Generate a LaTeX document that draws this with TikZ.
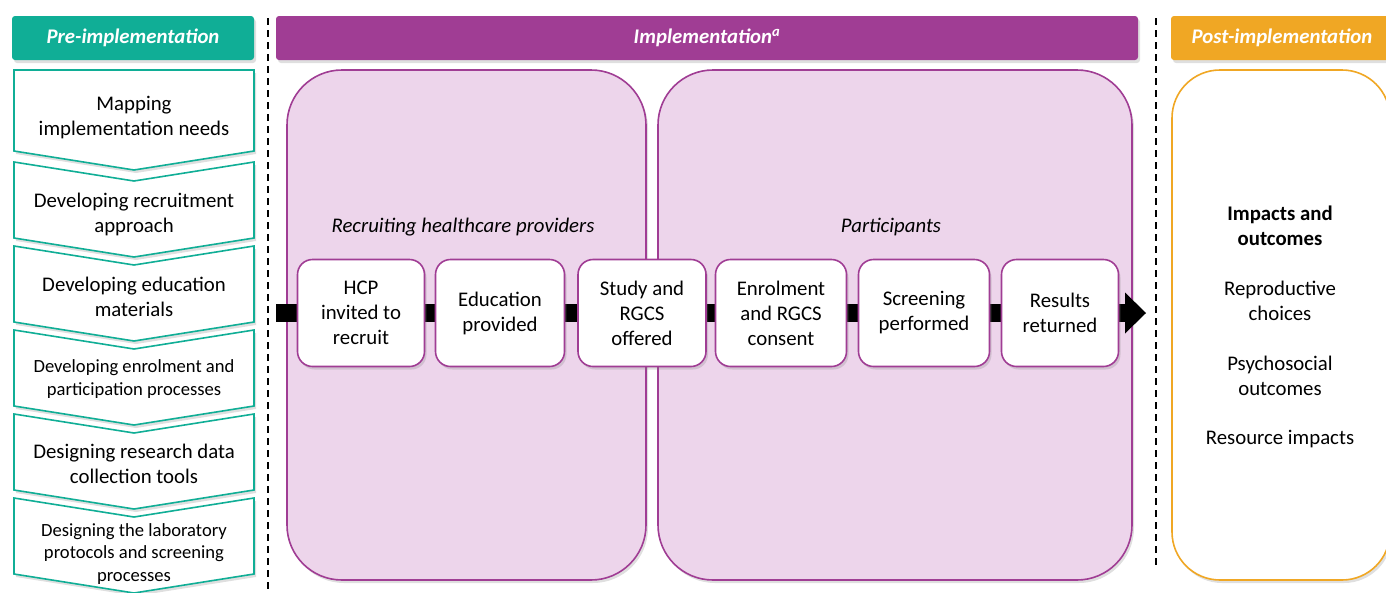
\documentclass[tikz,border=0pt]{standalone}
\usepackage{fontspec}
\setmainfont{Carlito}
\usetikzlibrary{arrows.meta,shadows,positioning}

\definecolor{preteal}{RGB}{16,174,150}
\definecolor{implpurple}{RGB}{160,61,148}
\definecolor{panelpink}{RGB}{237,213,235}
\definecolor{postorange}{RGB}{240,167,36}

\begin{document}
\begin{tikzpicture}[x=1pt,y=-1pt,
  shade/.style={drop shadow={shadow xshift=2pt,shadow yshift=-3pt,opacity=0.25}},
  hdr/.style={shade,rounded corners=3pt,minimum height=44pt,inner sep=0pt,text=white,
    font=\fontsize{20.8}{24}\selectfont\bfseries\itshape},
  chev/.style={shade,draw=preteal,fill=white,line width=1.6pt,line join=miter},
  chevtxt/.style={align=center,font=\fontsize{20.8}{25}\selectfont},
  chevsmall/.style={align=center,font=\fontsize{18.6}{22.5}\selectfont},
  panel/.style={shade,draw=implpurple,fill=panelpink,line width=1.6pt,rounded corners=55pt},
  stepbox/.style={shade,draw=implpurple,fill=white,line width=1.6pt,rounded corners=15pt,
    minimum height=107pt,inner sep=0pt,align=center,font=\fontsize{20.8}{25}\selectfont},
  flow/.style={line width=18pt,-{Triangle[length=21pt,width=41pt,line width=0pt]}},
  sep/.style={line width=2pt,dash pattern=on 7pt off 5pt}]

\useasboundingbox (0,0) rectangle (1386,592);

% headers
\node[hdr,fill=preteal,minimum width=242pt] (pre) at (133,38) {Pre-implementation};
\node[hdr,fill=implpurple,minimum width=862pt] (impl) at (707,38) {Implementation\textsuperscript{a}};
\node[hdr,fill=postorange,minimum width=222pt] (post) at (1282,38) {Post-implementation};

% separators
\draw[sep] (268,18) -- (268,590);
\draw[sep] (1156,18) -- (1156,568);

% pre-implementation chevrons
\draw[chev] (14,70) -- (254,70) -- (254,151) -- (134,170) -- (14,151) -- cycle;
\node[chevtxt] (c1) at (134,118) {Mapping\\implementation needs};
\foreach \n/\t/\c/\s/\txt in {
	2/162/214/chevtxt/{Developing recruitment\\approach},
	3/246/297/chevtxt/{Developing education\\materials},
	4/330/379/chevsmall/{Developing enrolment and\\participation processes},
	5/414/464/chevtxt/{Designing research data\\collection tools},
	6/498/554/chevsmall/{Designing the laboratory\\protocols and screening\\processes}}
{
	\draw[chev] (14,\t) -- (134,\t+19) -- (254,\t) -- (254,\t+76) -- (134,\t+95) -- (14,\t+76) -- cycle;
	\node[\s] (c\n) at (134,\c) {\txt};
}

% implementation panels
\draw[panel] (287,70) rectangle (646,580);
\draw[panel] (658,70) rectangle (1132,580);
\node[chevtxt,font=\fontsize{20.8}{25}\selectfont\itshape] (rec) at (463,227) {Recruiting healthcare providers};
\node[chevtxt,font=\fontsize{20.8}{25}\selectfont\itshape] (part) at (891,227) {Participants};

% flow line
\coordinate (lin) at (276,313);
\coordinate (lout) at (1146,313);
\draw[flow] (lin) -- (lout);

\foreach \n/\x/\w/\txt in {
	1/361/127/{HCP\\invited to\\recruit},
	2/500/129/{Education\\provided},
	3/642/128/{Study and\\RGCS\\offered},
	4/781/131/{Enrolment\\and RGCS\\consent},
	5/924/131/{Screening\\performed},
	6/1060/117/{Results\\returned}}
	\node[stepbox,minimum width=\w pt] (s\n) at (\x,313) {\txt};

% post-implementation
\draw[shade,draw=postorange,fill=white,line width=1.6pt,rounded corners=48pt] (1172,70) rectangle (1390,580);
\node[chevtxt,font=\fontsize{20.8}{25}\selectfont\bfseries] (imp) at (1280,226) {Impacts and\\outcomes};
\node[chevtxt] (rep) at (1280,301) {Reproductive\\choices};
\node[chevtxt] (psy) at (1280,376) {Psychosocial\\outcomes};
\node[chevtxt] (res) at (1280,439) {Resource impacts};
\end{tikzpicture}
\end{document}
